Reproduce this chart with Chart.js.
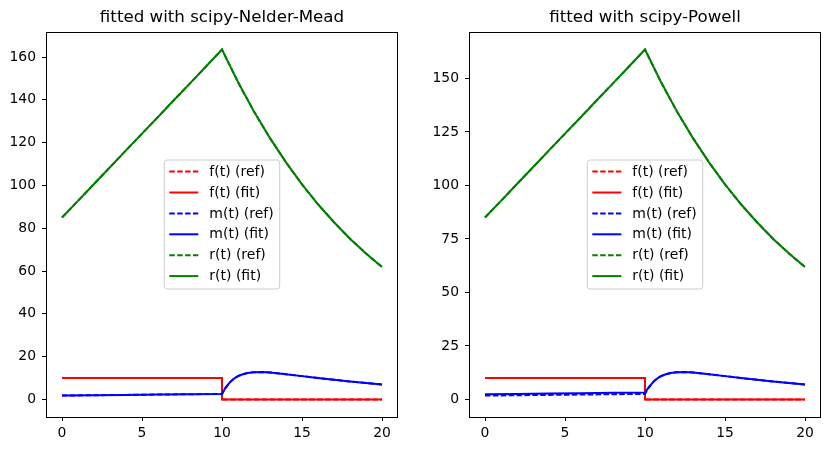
<!DOCTYPE html>
<html>
<head>
<meta charset="utf-8">
<script src="https://cdn.jsdelivr.net/npm/chart.js@4"></script>
<style>
  html, body { margin: 0; padding: 0; background: #fff; }
  #wrap { position: relative; width: 831px; height: 451px; }
  canvas { position: absolute; top: 0; }
</style>
</head>
<body>
<div id="wrap">
  <canvas id="nm" width="415" height="451" style="left:0"></canvas>
  <canvas id="pw" width="416" height="451" style="left:415px"></canvas>
</div>
<script>
// time points for each curve
const tF = [0, 10, 10, 20];
const tM = [0, 2, 4, 6, 8, 10, 10.2, 10.4, 10.6, 10.8, 11, 11.3, 11.6, 12, 12.5, 13, 14, 15, 16, 17, 18, 19, 20];
const tR = [0, 1, 2, 3, 4, 5, 6, 7, 8, 9, 10, 11, 12, 13, 14, 15, 16, 17, 18, 19, 20];

// reference curves
const fRef = [10, 10, 0, 0];
const mRef = [1.8, 1.96, 2.12, 2.28, 2.44, 2.6, 5.2, 7.2, 8.8, 10.0, 10.9, 11.8, 12.4, 12.7, 12.8, 12.6, 11.8, 10.9, 10.0, 9.2, 8.4, 7.7, 7.0];
const rRef = [85.0, 92.8, 100.7, 108.5, 116.4, 124.2, 132.0, 139.9, 147.7, 155.6, 163.5, 148.3, 134.5, 122.1, 110.8, 100.5, 91.2, 82.8, 75.1, 68.2, 61.9];

// Nelder-Mead fit
const fFitNM = [10, 10, 0, 0];
const mFitNM = [1.8, 1.96, 2.12, 2.28, 2.44, 2.6, 5.2, 7.2, 8.8, 10.0, 10.9, 11.8, 12.4, 12.7, 12.8, 12.6, 11.8, 10.9, 10.0, 9.2, 8.4, 7.7, 7.0];
const rFitNM = [85.0, 92.8, 100.7, 108.5, 116.4, 124.2, 132.0, 139.9, 147.7, 155.6, 163.5, 148.3, 134.5, 122.1, 110.8, 100.5, 91.2, 82.8, 75.1, 68.2, 61.9];

// Powell fit
const fFitPW = [10, 10, 0, 0];
const mFitPW = [2.4, 2.58, 2.76, 2.94, 3.12, 3.3, 5.3, 7.2, 8.8, 10.0, 10.9, 11.8, 12.4, 12.7, 12.8, 12.6, 11.8, 10.9, 10.0, 9.2, 8.4, 7.7, 7.0];
const rFitPW = [85.0, 92.8, 100.7, 108.5, 116.4, 124.2, 132.0, 139.9, 147.7, 155.6, 163.5, 148.3, 134.5, 122.1, 110.8, 100.5, 91.2, 82.8, 75.1, 68.2, 61.9];

const xTicks = [0, 5, 10, 15, 20];
const yTicksNM = [0, 20, 40, 60, 80, 100, 120, 140, 160];
const yTicksPW = [0, 25, 50, 75, 100, 125, 150];

Chart.defaults.font.family = '"DejaVu Sans", sans-serif';
Chart.defaults.color = '#000';

const pts = (xs, ys) => xs.map((x, i) => ({ x: x, y: ys[i] }));
const DASH = [5.5, 2.4];

// spines + matplotlib-like legend box in the middle of the axes
const boxLegend = {
  id: 'boxLegend',
  afterDraw(chart) {
    const ctx = chart.ctx;
    const a = chart.chartArea;
    ctx.save();
    ctx.strokeStyle = '#000';
    ctx.lineWidth = 1;
    ctx.setLineDash([]);
    ctx.strokeRect(Math.round(a.left) + 0.5, Math.round(a.top) + 0.5,
      Math.round(a.right - a.left) - 1, Math.round(a.bottom - a.top));

    const sets = chart.data.datasets;
    ctx.font = '14px "DejaVu Sans"';
    const textW = Math.max(...sets.map(d => ctx.measureText(d.label).width));
    const rowH = 20.9;
    const w = 45 + textW + 6;
    const h = 129;
    const left = (a.left + a.right) / 2 - w / 2;
    const top = (a.top + a.bottom) / 2 - h / 2;

    ctx.fillStyle = 'rgba(255,255,255,0.8)';
    ctx.strokeStyle = '#cccccc';
    ctx.beginPath();
    if (ctx.roundRect) ctx.roundRect(left, top, w, h, 3);
    else ctx.rect(left, top, w, h);
    ctx.fill();
    ctx.stroke();

    sets.forEach((d, i) => {
      const y = top + 11.6 + i * rowH;
      ctx.strokeStyle = d.borderColor;
      ctx.lineWidth = 2;
      ctx.setLineDash(d.borderDash || []);
      ctx.beginPath();
      ctx.moveTo(left + 5, y);
      ctx.lineTo(left + 34, y);
      ctx.stroke();
      ctx.setLineDash([]);
      ctx.fillStyle = '#000';
      ctx.textBaseline = 'middle';
      ctx.textAlign = 'left';
      ctx.fillText(d.label, left + 45, y + 0.5);
    });
    ctx.restore();
  }
};

function makeChart(id, title, fFit, mFit, rFit, yTicks, yWidth, padRight) {
  const series = [
    { label: 'f(t) (ref)', data: pts(tF, fRef), borderColor: '#ff0000', borderDash: DASH },
    { label: 'f(t) (fit)', data: pts(tF, fFit), borderColor: '#ff0000' },
    { label: 'm(t) (ref)', data: pts(tM, mRef), borderColor: '#0000ff', borderDash: DASH },
    { label: 'm(t) (fit)', data: pts(tM, mFit), borderColor: '#0000ff' },
    { label: 'r(t) (ref)', data: pts(tR, rRef), borderColor: '#008000', borderDash: DASH },
    { label: 'r(t) (fit)', data: pts(tR, rFit), borderColor: '#008000' }
  ];
  series.forEach((s, i) => {
    s.borderWidth = 2;
    s.pointRadius = 0;
    s.tension = 0;
    s.fill = false;
    s.order = 6 - i;
  });

  return new Chart(document.getElementById(id), {
    type: 'line',
    data: { datasets: series },
    options: {
      responsive: false,
      animation: false,
      devicePixelRatio: 1,
      layout: { padding: { left: 0, right: padRight, top: 0, bottom: 0 } },
      plugins: {
        legend: { display: false },
        tooltip: { enabled: false },
        title: {
          display: true,
          text: title,
          fullSize: false,
          color: '#000',
          font: { size: 16.67, weight: 'normal', lineHeight: 1.2 },
          padding: { top: 8, bottom: 4 }
        }
      },
      scales: {
        x: {
          type: 'linear',
          min: -1,
          max: 21,
          afterBuildTicks: ax => { ax.ticks = xTicks.map(v => ({ value: v })); },
          afterFit: ax => { ax.height = 34; },
          ticks: { autoSkip: false, maxRotation: 0, padding: 4, font: { size: 13.9 }, color: '#000' },
          grid: { display: true, drawOnChartArea: false, drawTicks: true, tickLength: 4, color: '#000' },
          border: { display: false }
        },
        y: {
          type: 'linear',
          min: -8.2,
          max: 171.7,
          afterBuildTicks: ax => { ax.ticks = yTicks.map(v => ({ value: v })); },
          afterFit: ax => { ax.width = yWidth; },
          ticks: { autoSkip: false, padding: 6, font: { size: 13.9 }, color: '#000' },
          grid: { display: true, drawOnChartArea: false, drawTicks: true, tickLength: 4, color: '#000' },
          border: { display: false }
        }
      }
    },
    plugins: [boxLegend]
  });
}

makeChart('nm', 'fitted with scipy-Nelder-Mead', fFitNM, mFitNM, rFitNM, yTicksNM, 46, 17);
makeChart('pw', 'fitted with scipy-Powell', fFitPW, mFitPW, rFitPW, yTicksPW, 54, 10);
</script>
</body>
</html>
